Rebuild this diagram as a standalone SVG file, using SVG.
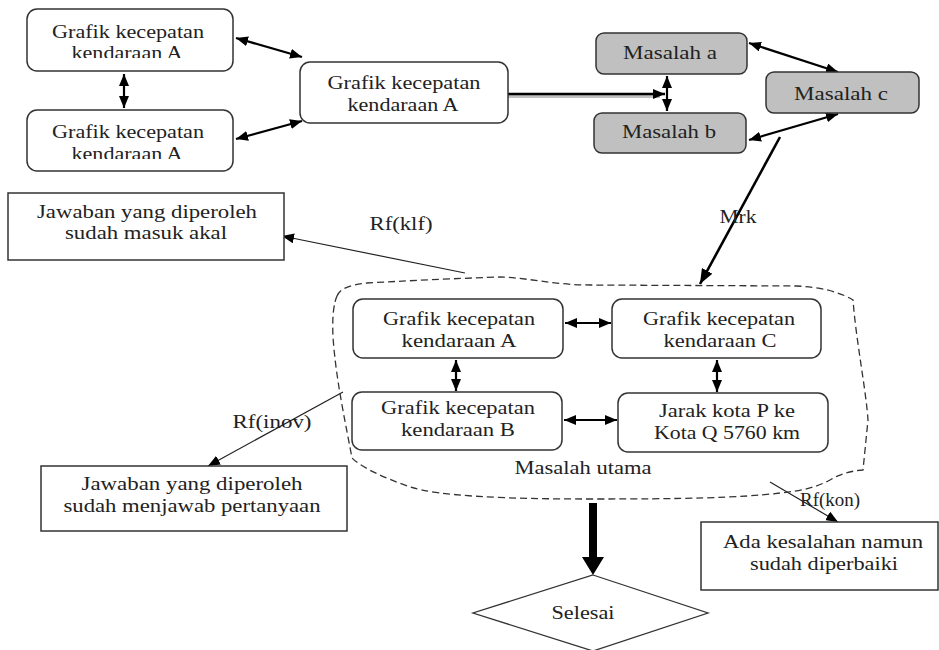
<svg xmlns="http://www.w3.org/2000/svg" width="939" height="650" viewBox="0 0 939 650">
<style>
  text { font-family: 'Liberation Serif', 'DejaVu Serif', 'Times New Roman', serif; font-size: 19px; fill: #222; text-anchor: middle; }
  .rbox { fill: #fff; stroke: #333; stroke-width: 1.5; }
  .gbox { fill: #c0c0c0; stroke: #333; stroke-width: 1.5; }
  .sbox { fill: #fff; stroke: #333; stroke-width: 1.5; }
  .con { fill: none; stroke: #000; stroke-width: 2.2; }
  .thick { fill: none; stroke: #000; stroke-width: 2.6; }
  .thin { fill: none; stroke: #222; stroke-width: 1.2; }
  .blob { fill: none; stroke: #333; stroke-width: 1.3; stroke-dasharray: 7 4; }
</style>
<defs>
  <marker id="ah" markerUnits="userSpaceOnUse" markerWidth="12" markerHeight="10" refX="12" refY="5" orient="auto-start-reverse">
    <path d="M0,0 L12,5 L0,10 z" fill="#000"/>
  </marker>
  <marker id="ahs" markerUnits="userSpaceOnUse" markerWidth="12" markerHeight="10" refX="12" refY="5" orient="auto">
    <path d="M0,0 L12,5 L0,10 z" fill="#000"/>
  </marker>
  <marker id="ahb" markerUnits="userSpaceOnUse" markerWidth="15" markerHeight="12" refX="15" refY="6" orient="auto">
    <path d="M0,0 L15,6 L0,12 z" fill="#000"/>
  </marker>
  <clipPath id="c1"><rect x="27" y="9" width="206" height="49"/></clipPath>
  <clipPath id="c2"><rect x="27" y="110" width="206" height="49"/></clipPath>
  <clipPath id="c3"><rect x="300" y="62" width="208" height="49"/></clipPath>
</defs>

<g id="connectors">
  <line class="con" x1="236" y1="38" x2="302" y2="57" marker-start="url(#ah)" marker-end="url(#ah)"/>
  <line class="con" x1="236" y1="139" x2="302" y2="121" marker-start="url(#ah)" marker-end="url(#ah)"/>
  <line class="con" x1="124" y1="74" x2="124" y2="108" marker-start="url(#ah)" marker-end="url(#ah)"/>
  <line x1="508" y1="96.5" x2="660" y2="96.5" stroke="#999" stroke-width="3" opacity="0.6"/>
  <line class="thick" x1="508" y1="94" x2="665" y2="94" marker-end="url(#ahs)"/>
  <line class="con" x1="667" y1="76" x2="667" y2="111" marker-start="url(#ah)" marker-end="url(#ah)"/>
  <line class="con" x1="749" y1="43" x2="838" y2="72" marker-start="url(#ah)" marker-end="url(#ah)"/>
  <line class="con" x1="749" y1="140" x2="838" y2="114" marker-start="url(#ah)" marker-end="url(#ah)"/>
  <line class="thick" x1="780" y1="137" x2="700" y2="284" marker-end="url(#ahb)"/>
  <line class="thin" x1="465" y1="273" x2="282" y2="236" marker-end="url(#ahs)"/>
  <line class="thin" x1="343" y1="392" x2="208" y2="466" marker-end="url(#ahs)"/>
  <line class="thin" x1="770" y1="482" x2="838" y2="522" marker-end="url(#ahs)"/>
  <line class="con" x1="565" y1="323" x2="611" y2="323" marker-start="url(#ah)" marker-end="url(#ah)"/>
  <line class="con" x1="564" y1="420" x2="617" y2="420" marker-start="url(#ah)" marker-end="url(#ah)"/>
  <line class="con" x1="456" y1="360" x2="456" y2="391" marker-start="url(#ah)" marker-end="url(#ah)"/>
  <line class="con" x1="717" y1="360" x2="717" y2="392" marker-start="url(#ah)" marker-end="url(#ah)"/>
  <path d="M589,503 L597,503 L597,557 L604,557 L593,575 L582,557 L589,557 Z" fill="#000"/>
  <text x="401" y="230" textLength="63" lengthAdjust="spacingAndGlyphs">Rf(klf)</text>
  <text x="738" y="223" textLength="37" lengthAdjust="spacingAndGlyphs">Mrk</text>
  <text x="272" y="428" textLength="79" lengthAdjust="spacingAndGlyphs">Rf(inov)</text>
  <text x="830" y="506" textLength="60" lengthAdjust="spacingAndGlyphs">Rf(kon)</text>
</g>

<g id="box1">
  <rect class="rbox" x="27" y="9" width="206" height="62" rx="10"/>
  <text x="128" y="38" textLength="152" lengthAdjust="spacingAndGlyphs">Grafik kecepatan</text>
  <text x="127" y="59" textLength="111" lengthAdjust="spacingAndGlyphs" clip-path="url(#c1)">kendaraan  A</text>
</g>
<g id="box2">
  <rect class="rbox" x="27" y="110" width="206" height="61" rx="10"/>
  <text x="128" y="138" textLength="152" lengthAdjust="spacingAndGlyphs">Grafik kecepatan</text>
  <text x="127" y="160" textLength="111" lengthAdjust="spacingAndGlyphs" clip-path="url(#c2)">kendaraan  A</text>
</g>
<g id="box3">
  <rect class="rbox" x="300" y="62" width="208" height="61" rx="10"/>
  <text x="404" y="89" textLength="153" lengthAdjust="spacingAndGlyphs">Grafik kecepatan</text>
  <text x="403" y="111" textLength="111" lengthAdjust="spacingAndGlyphs" clip-path="url(#c3)">kendaraan  A</text>
</g>
<g id="masalah-a">
  <rect class="gbox" x="596" y="33" width="151" height="41" rx="8"/>
  <text x="670" y="59" textLength="94" lengthAdjust="spacingAndGlyphs">Masalah  a</text>
</g>
<g id="masalah-b">
  <rect class="gbox" x="594" y="113" width="152" height="40" rx="8"/>
  <text x="669" y="138" textLength="94" lengthAdjust="spacingAndGlyphs">Masalah  b</text>
</g>
<g id="masalah-c">
  <rect class="gbox" x="766" y="72" width="153" height="41" rx="8"/>
  <text x="841" y="100" textLength="94" lengthAdjust="spacingAndGlyphs">Masalah  c</text>
</g>
<g id="jawaban-akal">
  <rect class="sbox" x="8" y="193" width="276" height="67"/>
  <text x="147" y="218" textLength="220" lengthAdjust="spacingAndGlyphs">Jawaban yang diperoleh</text>
  <text x="146" y="239" textLength="162" lengthAdjust="spacingAndGlyphs">sudah masuk akal</text>
</g>
<g id="masalah-utama">
  <path class="blob" d="M337,296 C340,289 348,285 367,283 C420,280 470,278 500,277 C530,278 555,285 590,285 L797,286 C820,287 840,292 853,300 C856,340 866,390 868,420 L863,470 C850,471 840,474 830,480 C815,488 800,491 780,493 C740,498 680,499 593,499 C500,499 440,496 410,487 C385,478 362,468 352,458 C345,420 336,380 333,337 C332,315 334,303 337,296 Z"/>
  <text x="583" y="474" textLength="137" lengthAdjust="spacingAndGlyphs">Masalah utama</text>
</g>
<g id="inner-a">
  <rect class="rbox" x="353" y="299" width="210" height="59" rx="10"/>
  <text x="459" y="325" textLength="152" lengthAdjust="spacingAndGlyphs">Grafik kecepatan</text>
  <text x="459" y="347" textLength="115" lengthAdjust="spacingAndGlyphs">kendaraan A</text>
</g>
<g id="inner-c">
  <rect class="rbox" x="612" y="299" width="209" height="59" rx="10"/>
  <text x="719" y="325" textLength="152" lengthAdjust="spacingAndGlyphs">Grafik kecepatan</text>
  <text x="720" y="347" textLength="113" lengthAdjust="spacingAndGlyphs">kendaraan C</text>
</g>
<g id="inner-b">
  <rect class="rbox" x="352" y="392" width="210" height="58" rx="10"/>
  <text x="458" y="414" textLength="154" lengthAdjust="spacingAndGlyphs">Grafik kecepatan</text>
  <text x="458" y="436" textLength="114" lengthAdjust="spacingAndGlyphs">kendaraan B</text>
</g>
<g id="jarak">
  <rect class="rbox" x="618" y="393" width="210" height="59" rx="10"/>
  <text x="727" y="417" textLength="136" lengthAdjust="spacingAndGlyphs">Jarak kota P ke</text>
  <text x="727" y="439" textLength="146" lengthAdjust="spacingAndGlyphs">Kota Q 5760 km</text>
</g>
<g id="jawaban-pertanyaan">
  <rect class="sbox" x="41" y="466" width="306" height="65"/>
  <text x="192" y="490" textLength="221" lengthAdjust="spacingAndGlyphs">Jawaban yang diperoleh</text>
  <text x="192" y="512" textLength="257" lengthAdjust="spacingAndGlyphs">sudah menjawab pertanyaan</text>
</g>
<g id="kesalahan">
  <rect class="sbox" x="701" y="522" width="237" height="68"/>
  <text x="823" y="548" textLength="200" lengthAdjust="spacingAndGlyphs">Ada kesalahan namun</text>
  <text x="824" y="570" textLength="148" lengthAdjust="spacingAndGlyphs">sudah diperbaiki</text>
</g>
<g id="selesai">
  <polygon points="593,575 708,613 593,651 473,613" fill="#fff" stroke="#333" stroke-width="1.3"/>
  <text x="583" y="619" textLength="63" lengthAdjust="spacingAndGlyphs">Selesai</text>
</g>
</svg>
